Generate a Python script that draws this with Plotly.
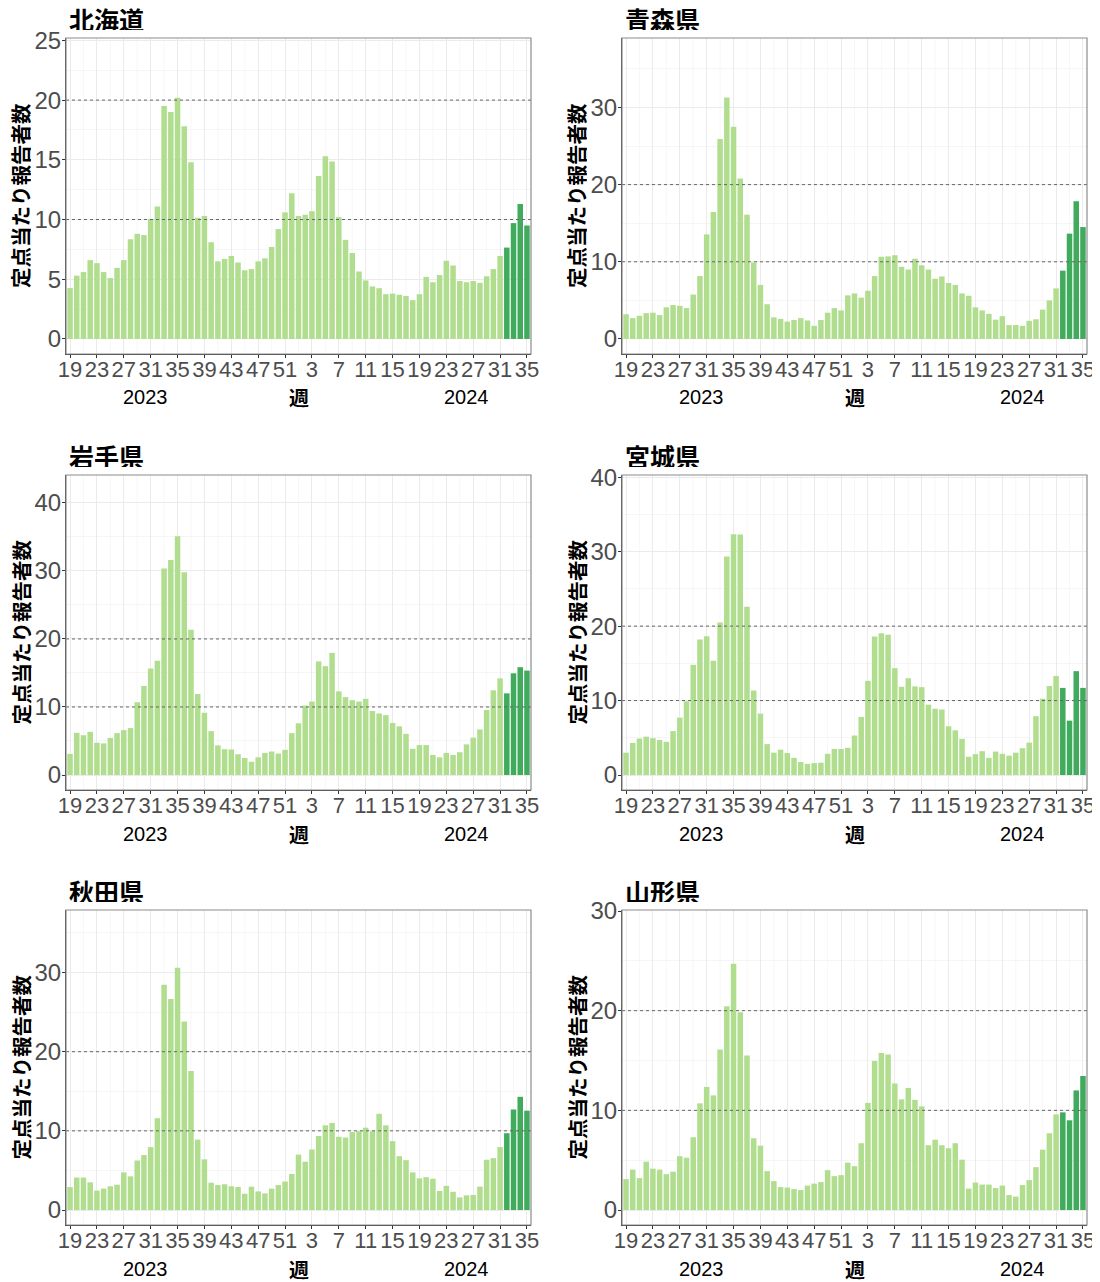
import plotly.graph_objects as go

# ---------------- data ----------------
WEEKS_2023 = [19, 20, 21, 22, 23, 24, 25, 26, 27, 28, 29, 30, 31, 32, 33, 34, 35, 36, 37, 38,
              39, 40, 41, 42, 43, 44, 45, 46, 47, 48, 49, 50, 51, 52]
WEEKS_2024 = [1, 2, 3, 4, 5, 6, 7, 8, 9, 10, 11, 12, 13, 14, 15, 16, 17, 18, 19, 20,
              21, 22, 23, 24, 25, 26, 27, 28, 29, 30, 31, 32, 33, 34, 35]
CATEGORIES = [f"2023-W{w:02d}" for w in WEEKS_2023] + [f"2024-W{w:02d}" for w in WEEKS_2024]
RECENT_WEEKS = ["2024-W32", "2024-W33", "2024-W34", "2024-W35"]

TICK_CATEGORIES = ["2023-W19", "2023-W23", "2023-W27", "2023-W31", "2023-W35", "2023-W39",
                   "2023-W43", "2023-W47", "2023-W51", "2024-W03", "2024-W07", "2024-W11",
                   "2024-W15", "2024-W19", "2024-W23", "2024-W27", "2024-W31", "2024-W35"]
TICK_LABELS = ["19", "23", "27", "31", "35", "39", "43", "47", "51",
               "3", "7", "11", "15", "19", "23", "27", "31", "35"]
YEAR_LABELS = ["2023", "2024"]

PREFECTURES = ["北海道", "青森県", "岩手県", "宮城県", "秋田県", "山形県"]

HOKKAIDO = [4.26, 5.3, 5.6, 6.6, 6.35, 5.6, 5.1, 5.95, 6.6, 8.35, 8.8, 8.7, 10.05, 11.1,
            19.5, 19.0, 20.2, 17.8, 14.8, 10.15, 10.3, 8.1, 6.5, 6.7, 6.95, 6.4, 5.75, 5.85,
            6.5, 6.75, 7.7, 9.2, 10.6, 12.2,
            10.3, 10.4, 10.7, 13.65, 15.3, 14.85, 10.2, 8.3, 7.2, 5.65, 4.9, 4.4, 4.25, 3.75,
            3.8, 3.7, 3.6, 3.25, 3.75, 5.2, 4.75, 5.35, 6.55, 6.15, 4.85, 4.75, 4.85, 4.7,
            5.25, 5.85, 6.95, 7.65, 9.7, 11.3, 9.5]
AOMORI = [3.2, 2.7, 3.0, 3.35, 3.4, 3.1, 4.1, 4.4, 4.3, 4.0, 5.75, 8.15, 13.55, 16.45,
          25.9, 31.3, 27.5, 20.8, 16.1, 9.9, 7.0, 4.5, 2.8, 2.6, 2.25, 2.45, 2.7, 2.4,
          1.7, 2.45, 3.4, 4.0, 3.7, 5.65,
          5.9, 5.35, 6.25, 8.15, 10.65, 10.7, 10.85, 9.35, 9.0, 10.4, 9.55, 9.0, 7.8, 8.1,
          7.25, 7.0, 5.9, 5.6, 4.1, 3.7, 3.25, 2.5, 2.95, 1.8, 1.8, 1.7, 2.35, 2.55,
          3.8, 5.0, 6.55, 8.85, 13.65, 17.85, 14.5]
IWATE = [3.1, 6.2, 5.85, 6.35, 4.75, 4.65, 5.45, 6.15, 6.6, 6.9, 10.7, 13.1, 15.65, 16.8,
         30.35, 31.6, 35.1, 29.8, 21.35, 11.9, 9.15, 6.45, 4.35, 3.8, 3.75, 3.05, 2.5, 1.95,
         2.6, 3.25, 3.45, 3.15, 3.7, 6.15,
         7.6, 10.2, 10.8, 16.7, 16.0, 17.95, 12.3, 11.45, 11.0, 10.8, 11.2, 9.4, 9.05, 8.8,
         7.65, 7.15, 6.05, 3.85, 4.4, 4.4, 2.95, 2.6, 3.25, 2.95, 3.35, 4.5, 5.5, 6.7,
         9.55, 12.45, 14.2, 12.0, 14.95, 15.85, 15.35]
MIYAGI = [3.0, 4.3, 4.9, 5.15, 4.95, 4.7, 4.45, 5.9, 7.7, 9.9, 14.8, 18.2, 18.65, 15.35,
          20.5, 29.35, 32.35, 32.3, 22.6, 11.35, 8.25, 4.15, 3.0, 3.4, 2.95, 2.3, 1.75, 1.5,
          1.6, 1.65, 2.85, 3.5, 3.5, 3.65,
          5.3, 7.8, 12.65, 18.6, 19.05, 18.85, 14.35, 11.85, 13.0, 11.9, 11.8, 9.45, 8.9, 8.8,
          6.55, 6.0, 4.85, 2.45, 2.8, 3.2, 2.3, 3.15, 2.85, 2.6, 3.0, 3.6, 4.35, 7.9,
          10.25, 11.95, 13.3, 11.7, 7.3, 13.95, 11.7]
AKITA = [2.9, 4.1, 4.1, 3.5, 2.45, 2.7, 3.0, 3.2, 4.75, 4.25, 6.25, 6.95, 7.95, 11.6,
         28.45, 26.65, 30.6, 23.8, 17.55, 8.9, 6.4, 3.45, 3.15, 3.25, 3.0, 2.9, 2.05, 2.95,
         2.35, 2.1, 2.7, 3.15, 3.6, 4.55,
         7.0, 6.1, 7.65, 9.35, 10.7, 11.0, 9.25, 9.15, 9.85, 9.95, 10.4, 9.95, 12.15, 10.7,
         8.7, 6.8, 6.3, 4.75, 4.0, 4.15, 3.95, 2.4, 3.05, 2.3, 1.6, 1.85, 1.9, 2.95,
         6.35, 6.55, 7.95, 9.7, 12.7, 14.3, 12.55]
YAMAGATA = [3.1, 4.05, 3.2, 4.85, 4.15, 4.05, 3.6, 3.85, 5.4, 5.25, 7.3, 10.7, 12.35, 11.5,
            16.1, 20.45, 24.7, 19.85, 15.5, 7.2, 6.45, 3.9, 2.9, 2.3, 2.25, 2.1, 2.0, 2.45,
            2.65, 2.8, 4.0, 3.4, 3.5, 4.75,
            4.4, 6.7, 10.75, 14.95, 15.75, 15.6, 12.7, 11.1, 12.25, 11.05, 10.4, 6.5, 7.05, 6.5,
            6.2, 6.7, 5.05, 2.15, 2.75, 2.55, 2.55, 2.2, 2.45, 1.5, 1.35, 2.5, 3.0, 4.3,
            6.05, 7.7, 9.6, 9.8, 9.0, 12.0, 13.45]

SERIES = [HOKKAIDO, AOMORI, IWATE, MIYAGI, AKITA, YAMAGATA]

# ---------------- styling / layout ----------------
PAGE_W, PAGE_H = 1100, 1282
OFFSET = 8                      # default page margin around the plot div
W, H = PAGE_W - OFFSET, PAGE_H - OFFSET
LIGHT = "#b0de8e"
DARK = "#41ab5d"
JP_FONT = "Noto Sans CJK JP"
NUM_FONT = "Liberation Sans, Arial, sans-serif"

# target positions in screen pixels
COLS_PX = [(66, 531), (622, 1087)]
ROWS_PX = [(38, 354), (475, 790), (910, 1225)]
Y_TOPS = [25.2, 39.0, 44.1, 40.3, 37.9, 30.1]
Y_DTICKS = [5, 10, 10, 10, 10, 10]


def px_x(p):
    return (p - OFFSET) / W


def px_y(p):
    return 1 - (p - OFFSET) / H


fig = go.Figure()
layout = dict(
    template="none",
    width=W, height=H, autosize=False,
    margin=dict(l=0, r=0, t=0, b=0, pad=0, autoexpand=False),
    paper_bgcolor="white", plot_bgcolor="white",
    showlegend=False, bargap=0.18,
    font=dict(family=NUM_FONT, color="#4d4d4d"),
)
shapes = []
annotations = []

for k, (name, values) in enumerate(zip(PREFECTURES, SERIES)):
    r, c = divmod(k, 2)
    idx = "" if k == 0 else str(k + 1)
    xa, ya = "x" + idx, "y" + idx
    x0p, x1p = COLS_PX[c]
    t_px, b_px = ROWS_PX[r]

    colors = [DARK if cat in RECENT_WEEKS else LIGHT for cat in CATEGORIES]
    fig.add_trace(go.Bar(x=CATEGORIES, y=values, marker=dict(color=colors, line=dict(width=0)),
                         xaxis=xa, yaxis=ya, hovertemplate="%{x}: %{y}<extra>" + name + "</extra>"))

    top = Y_TOPS[k]
    layout["xaxis" + idx] = dict(
        domain=[px_x(x0p), px_x(x1p)], anchor=ya, type="category", automargin=False,
        categoryorder="array", categoryarray=CATEGORIES,
        range=[-0.6, len(CATEGORIES) - 0.4],
        tickmode="array", tickvals=TICK_CATEGORIES, ticktext=TICK_LABELS,
        tickfont=dict(size=22, color="#4d4d4d", family=NUM_FONT),
        ticks="outside", ticklen=3, tickcolor="#333333", tickwidth=1,
        ticklabelstandoff=-8,
        showgrid=True, gridcolor="#ebebeb", gridwidth=1,
        showline=True, linecolor="#333333", linewidth=1.2,
        zeroline=False, fixedrange=True,
    )
    layout["yaxis" + idx] = dict(
        domain=[px_y(b_px), px_y(t_px)], anchor=xa, automargin=False,
        range=[-0.05 * top, top], tick0=0, dtick=Y_DTICKS[k],
        tickfont=dict(size=24, color="#4d4d4d", family=NUM_FONT),
        ticks="outside", ticklen=3, tickcolor="#333333", tickwidth=1,
        ticklabelstandoff=-4,
        showgrid=True, gridcolor="#ebebeb", gridwidth=1,
        minor=dict(showgrid=True, gridcolor="#f5f5f5", gridwidth=0.8,
                   tick0=0, dtick=Y_DTICKS[k] / 2),
        showline=True, linecolor="#333333", linewidth=1.2,
        zeroline=False, fixedrange=True,
    )

    # minor vertical grid lines halfway between labelled weeks
    for cat in CATEGORIES[2::4]:
        shapes.append(dict(type="line", xref=xa, x0=cat, x1=cat, yref=ya + " domain", y0=0, y1=1,
                           line=dict(color="#f5f5f5", width=0.8), layer="below"))
    # dotted reference lines
    for yv in (10, 20):
        shapes.append(dict(type="line", xref=xa + " domain", x0=0, x1=1, yref=ya, y0=yv, y1=yv,
                           line=dict(color="#666666", width=1, dash="dot"), layer="above"))
    # panel border
    shapes.append(dict(type="rect", xref=xa + " domain", x0=0, x1=1, yref=ya + " domain", y0=0, y1=1,
                       line=dict(color="#8c8c8c", width=1.2), layer="above"))

    # title
    annotations.append(dict(text="<b>" + name + "</b>", xref="paper", yref="paper",
                            x=px_x(x0p + 1), y=px_y(t_px - 19), xanchor="left", yanchor="middle",
                            height=22, valign="middle",
                            showarrow=False, font=dict(family=JP_FONT, size=25, color="#000000")))
    # y axis title
    annotations.append(dict(text="<b>定点当たり報告者数</b>", xref="paper", yref="paper",
                            x=px_x(x0p - 46), y=px_y((t_px + b_px) / 2), textangle=-90,
                            xanchor="center", yanchor="middle", height=22, valign="middle",
                            showarrow=False,
                            font=dict(family=JP_FONT, size=20.5, color="#000000")))
    # x axis title and year labels
    ylab = px_y(b_px + 43.5)
    annotations.append(dict(text="<b>週</b>", xref=xa + " domain", x=0.5, yref="paper", y=ylab,
                            xanchor="center", yanchor="middle", height=22, valign="middle",
                            showarrow=False,
                            font=dict(family=JP_FONT, size=20, color="#000000")))
    for yr, fx in zip(YEAR_LABELS, (0.17, 0.862)):
        annotations.append(dict(text=yr, xref=xa + " domain", x=fx, yref="paper", y=ylab,
                                xanchor="center", yanchor="middle", height=22, valign="middle",
                                showarrow=False,
                                font=dict(family=NUM_FONT, size=20, color="#000000")))

layout["shapes"] = shapes
layout["annotations"] = annotations
fig.update_layout(**layout)
fig.write_html("out.html")
